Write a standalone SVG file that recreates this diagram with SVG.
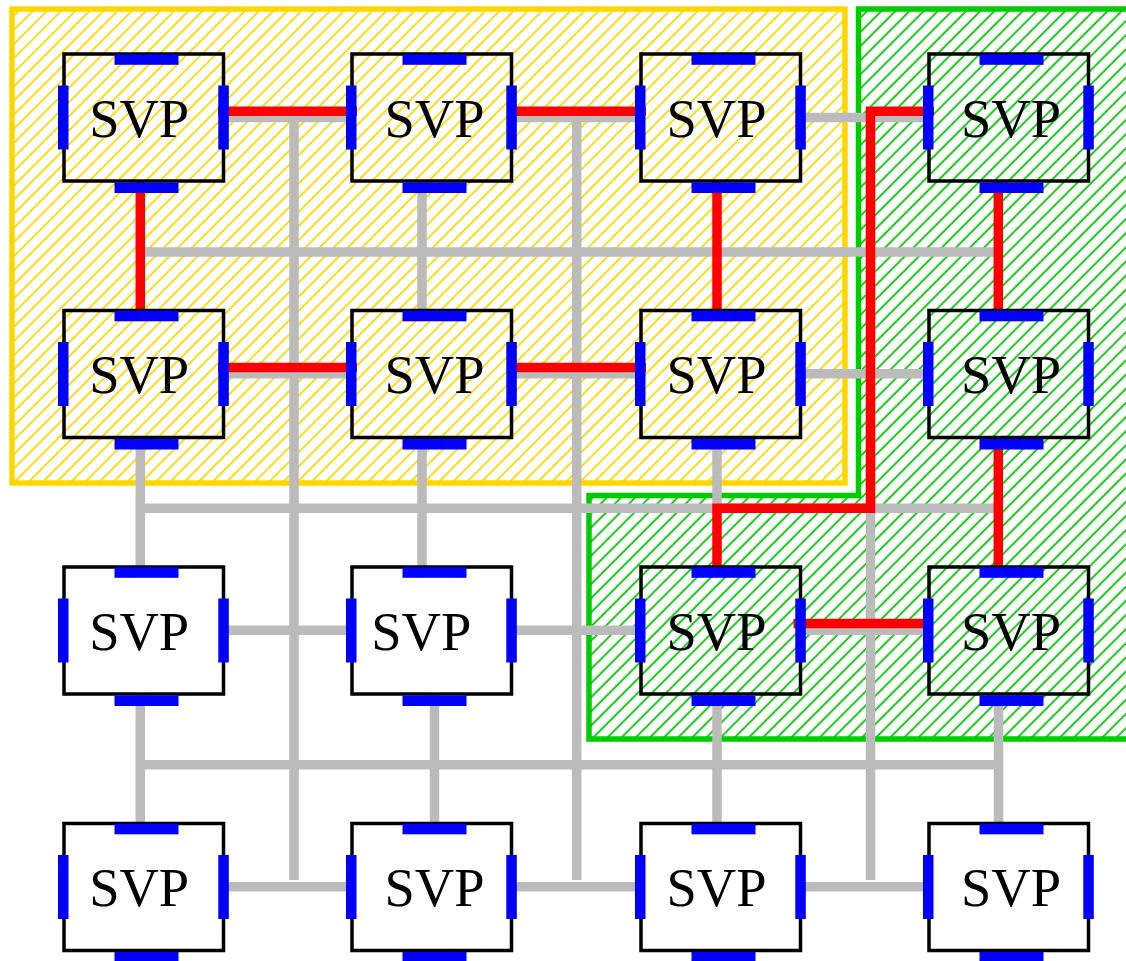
<svg xmlns="http://www.w3.org/2000/svg" xmlns:xlink="http://www.w3.org/1999/xlink" width="1126" height="961" viewBox="0 0 1126 961">
<style>
.box{fill:none;stroke:#000;stroke-width:3.5}
.port{fill:#0000ff}
.lbl{font-family:"Liberation Serif","Times New Roman",serif;font-size:54.5px;text-anchor:middle;fill:#000}
.g{stroke:#bbbbbb;stroke-width:9.5;fill:none}
.r{stroke:#ff0000;stroke-width:9.5;fill:none;stroke-linejoin:miter}
</style>
<defs>
<pattern id="hy" patternUnits="userSpaceOnUse" width="10" height="10" patternTransform="rotate(45)">
<rect width="10" height="10" fill="#ffffff"/>
<line x1="1" y1="0" x2="1" y2="10" stroke="#ffd700" stroke-width="1.8"/>
</pattern>
<pattern id="hg" patternUnits="userSpaceOnUse" width="10" height="10" patternTransform="rotate(45)">
<rect width="10" height="10" fill="#ffffff"/>
<line x1="1" y1="0" x2="1" y2="10" stroke="#00cc00" stroke-width="1.8"/>
</pattern>
<g id="frame">
<rect class="box" x="0" y="0" width="159.5" height="127"/>
<rect class="port" x="50.5" y="0.3" width="64" height="10.5"/>
<rect class="port" x="50.5" y="128.5" width="64" height="10.5"/>
<rect class="port" x="-6" y="31.5" width="10.5" height="64"/>
<rect class="port" x="154.3" y="31.5" width="10.5" height="64"/>
</g>
</defs>
<rect width="1126" height="961" fill="#ffffff"/>
<g id="regions">
<rect id="region-yellow" x="12" y="9" width="833" height="474" fill="url(#hy)" stroke="#ffd700" stroke-width="5.5"/>
<polygon id="region-green" points="858.5,9 1135,9 1135,739 589,739 589,495.5 858.5,495.5" fill="url(#hg)" stroke="#00cc00" stroke-width="5.5"/>
</g>
<g id="connectors">
<path class="g" d="M140.3,252H998.3M140.3,508.3H998.3M140.3,764.7H998.3"/>
<path class="g" d="M294,117.5V880M576.7,117.5V880M870.5,117.5V880"/>
<path class="g" d="M223,117.5H352M511.5,117.5H641M800.5,117.5H929"/>
<path class="g" d="M223,373.8H352M511.5,373.8H641M800.5,373.8H929"/>
<path class="g" d="M223,630.3H352M511.5,630.3H641M800.5,630.3H929"/>
<path class="g" d="M223,886.7H352M511.5,886.7H641M800.5,886.7H929"/>
<path class="g" d="M422,181V310.5M140.3,437.5V567M422,437.5V567M717,437.5V508.3"/>
<path class="g" d="M140.3,694V823.5M434.5,694V823.5M717,694V823.5M998.5,694V823.5"/>
<path class="r" d="M218,111.2H357M507,111.2H646M218,367.5H357M507,367.5H646M793.5,623.5H923"/>
<path class="r" d="M140.3,181V310.5M717,181V310.5M998.3,181V310.5M998.3,437.5V567"/>
<path class="r" d="M934,111.2H870.5V508.3H717V567"/>
</g>
<g id="n11" transform="translate(64,54)"><use xlink:href="#frame"/><text class="lbl" x="75.2" y="82.7">SVP</text></g>
<g id="n12" transform="translate(352,54)"><use xlink:href="#frame"/><text class="lbl" x="82.5" y="82.7">SVP</text></g>
<g id="n13" transform="translate(641,54)"><use xlink:href="#frame"/><text class="lbl" x="75.5" y="82.7">SVP</text></g>
<g id="n14" transform="translate(929,54)"><use xlink:href="#frame"/><text class="lbl" x="82" y="82.7">SVP</text></g>
<g id="n21" transform="translate(64,310.5)"><use xlink:href="#frame"/><text class="lbl" x="75.2" y="82.7">SVP</text></g>
<g id="n22" transform="translate(352,310.5)"><use xlink:href="#frame"/><text class="lbl" x="82.5" y="82.7">SVP</text></g>
<g id="n23" transform="translate(641,310.5)"><use xlink:href="#frame"/><text class="lbl" x="75.5" y="82.7">SVP</text></g>
<g id="n24" transform="translate(929,310.5)"><use xlink:href="#frame"/><text class="lbl" x="82" y="82.7">SVP</text></g>
<g id="n31" transform="translate(64,567)"><use xlink:href="#frame"/><text class="lbl" x="75.2" y="82.7">SVP</text></g>
<g id="n32" transform="translate(352,567)"><use xlink:href="#frame"/><text class="lbl" x="69.3" y="82.7">SVP</text></g>
<g id="n33" transform="translate(641,567)"><use xlink:href="#frame"/><text class="lbl" x="75.5" y="82.7">SVP</text></g>
<g id="n34" transform="translate(929,567)"><use xlink:href="#frame"/><text class="lbl" x="82" y="82.7">SVP</text></g>
<g id="n41" transform="translate(64,823.5)"><use xlink:href="#frame"/><text class="lbl" x="75.2" y="82.7">SVP</text></g>
<g id="n42" transform="translate(352,823.5)"><use xlink:href="#frame"/><text class="lbl" x="82.5" y="82.7">SVP</text></g>
<g id="n43" transform="translate(641,823.5)"><use xlink:href="#frame"/><text class="lbl" x="75.5" y="82.7">SVP</text></g>
<g id="n44" transform="translate(929,823.5)"><use xlink:href="#frame"/><text class="lbl" x="82" y="82.7">SVP</text></g>
</svg>
